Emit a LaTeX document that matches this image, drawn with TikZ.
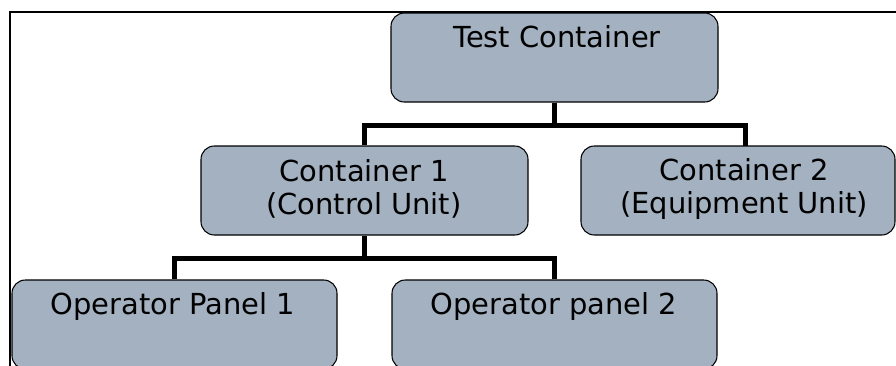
\documentclass[tikz,border=0pt]{standalone}
\usepackage{fontspec}
\setmainfont{DejaVu Sans}
\definecolor{boxfill}{RGB}{163,177,192}
\begin{document}
\begin{tikzpicture}[x=0.75pt,y=-0.75pt,
  box/.style={draw=black, fill=boxfill, line width=0.8pt, rounded corners=10pt, rectangle, inner sep=0pt, minimum height=66.75pt},
  lbl/.style={font=\fontsize{21.7pt}{25pt}\selectfont, align=center, inner sep=0pt},
  conn/.style={line width=3.75pt, black},
  framel/.style={line width=1.1pt, black}]
\useasboundingbox (0,0) rectangle (896,365);
\clip (0,0) rectangle (896,365);
\coordinate (fa) at (897,12);
\coordinate (fb) at (10,12);
\coordinate (fc) at (10,367);
\draw[framel] (fa) -- (fb) -- (fc);
% boxes
\node[box, minimum width=245.25pt] (tc) at (554.5,57.5) {};
\node[box, minimum width=245.25pt] (c1) at (364.5,190.5) {};
\node[box, minimum width=235.5pt] (c2) at (738,190.5) {};
\node[box, minimum width=243.75pt] (op1) at (174.5,324.5) {};
\node[box, minimum width=243.75pt] (op2) at (554.5,324.5) {};
% labels
\node[lbl, anchor=base] (tcl) at (557,47) {Test Container};
\node[lbl] (c1l) at (364,189) {Container 1\\(Control Unit)};
\node[lbl] (c2l) at (744,189) {Container 2\\(Equipment Unit)};
\node[lbl, anchor=base] (op1l) at (173,314) {Operator Panel 1};
\node[lbl, anchor=base] (op2l) at (554,314) {Operator panel 2};
% connectors
\coordinate (j1) at (554.5,125);
\coordinate (j1l) at (364.5,125);
\coordinate (j1r) at (745,125);
\coordinate (c2t) at (745,146);
\coordinate (j2) at (364.5,258);
\coordinate (j2l) at (174.5,258);
\coordinate (j2r) at (554.5,258);
\draw[conn] (tc.south) -- (j1);
\draw[conn] (c1.north) -- (j1l) -- (j1r) -- (c2t);
\draw[conn] (c1.south) -- (j2);
\draw[conn] (op1.north) -- (j2l) -- (j2r) -- (op2.north);
\end{tikzpicture}
\end{document}
